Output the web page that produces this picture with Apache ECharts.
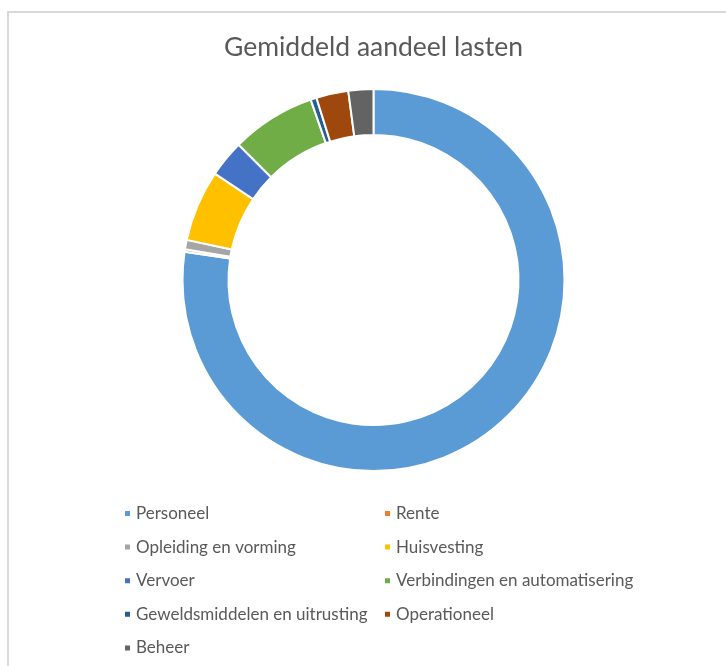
<!DOCTYPE html>
<html>
<head>
<meta charset="utf-8">
<script src="https://cdn.jsdelivr.net/npm/echarts@6/dist/echarts.min.js"></script>
<style>
html,body{margin:0;padding:0;background:#fff;}
#c{width:726px;height:666px;}
</style>
</head>
<body>
<div id="c"></div>
<script>
var categories = ['Personeel','Rente','Opleiding en vorming','Huisvesting','Vervoer','Verbindingen en automatisering','Geweldsmiddelen en uitrusting','Operationeel','Beheer'];
var values = [76.9, 0.2, 0.8, 6.0, 3.1, 7.1, 0.5, 2.7, 2.1];
var colors = ['#5B9BD5','#ED7D31','#A5A5A5','#FFC000','#4472C4','#70AD47','#255E91','#9E480E','#636363'];
var legendCol1 = ['Personeel','Opleiding en vorming','Vervoer','Geweldsmiddelen en uitrusting','Beheer'];
var legendCol2 = ['Rente','Huisvesting','Verbindingen en automatisering','Operationeel'];

var chart = echarts.init(document.getElementById('c'), null, {renderer:'canvas'});
var legendBase = {
  orient:'vertical', top:500, itemWidth:7, itemHeight:7, itemGap:16.6, icon:'rect',
  selectedMode:false,
  textStyle:{fontFamily:'Lato', fontSize:17, color:'#595959', lineHeight:16}
};
chart.setOption({
  animation:false,
  color: colors,
  title:{
    text:'Gemiddeld aandeel lasten', left:219, top:29,
    textStyle:{fontFamily:'Lato', fontSize:26.5, fontWeight:'normal', color:'#595959'}
  },
  graphic:[{type:'rect', shape:{x:8, y:12, width:760, height:700}, style:{fill:'none', stroke:'#d9d9d9', lineWidth:2}, silent:true}],
  legend:[
    Object.assign({}, legendBase, {left:118, data:legendCol1}),
    Object.assign({}, legendBase, {left:378, data:legendCol2})
  ],
  series:[{
    type:'pie', center:[373.5,280], radius:[145,191], startAngle:90, clockwise:true,
    label:{show:false}, labelLine:{show:false}, emphasis:{disabled:true},
    itemStyle:{borderColor:'#fff', borderWidth:2},
    data: categories.map(function(n,i){return {name:n, value:values[i]};})
  }]
});
</script>
</body>
</html>
